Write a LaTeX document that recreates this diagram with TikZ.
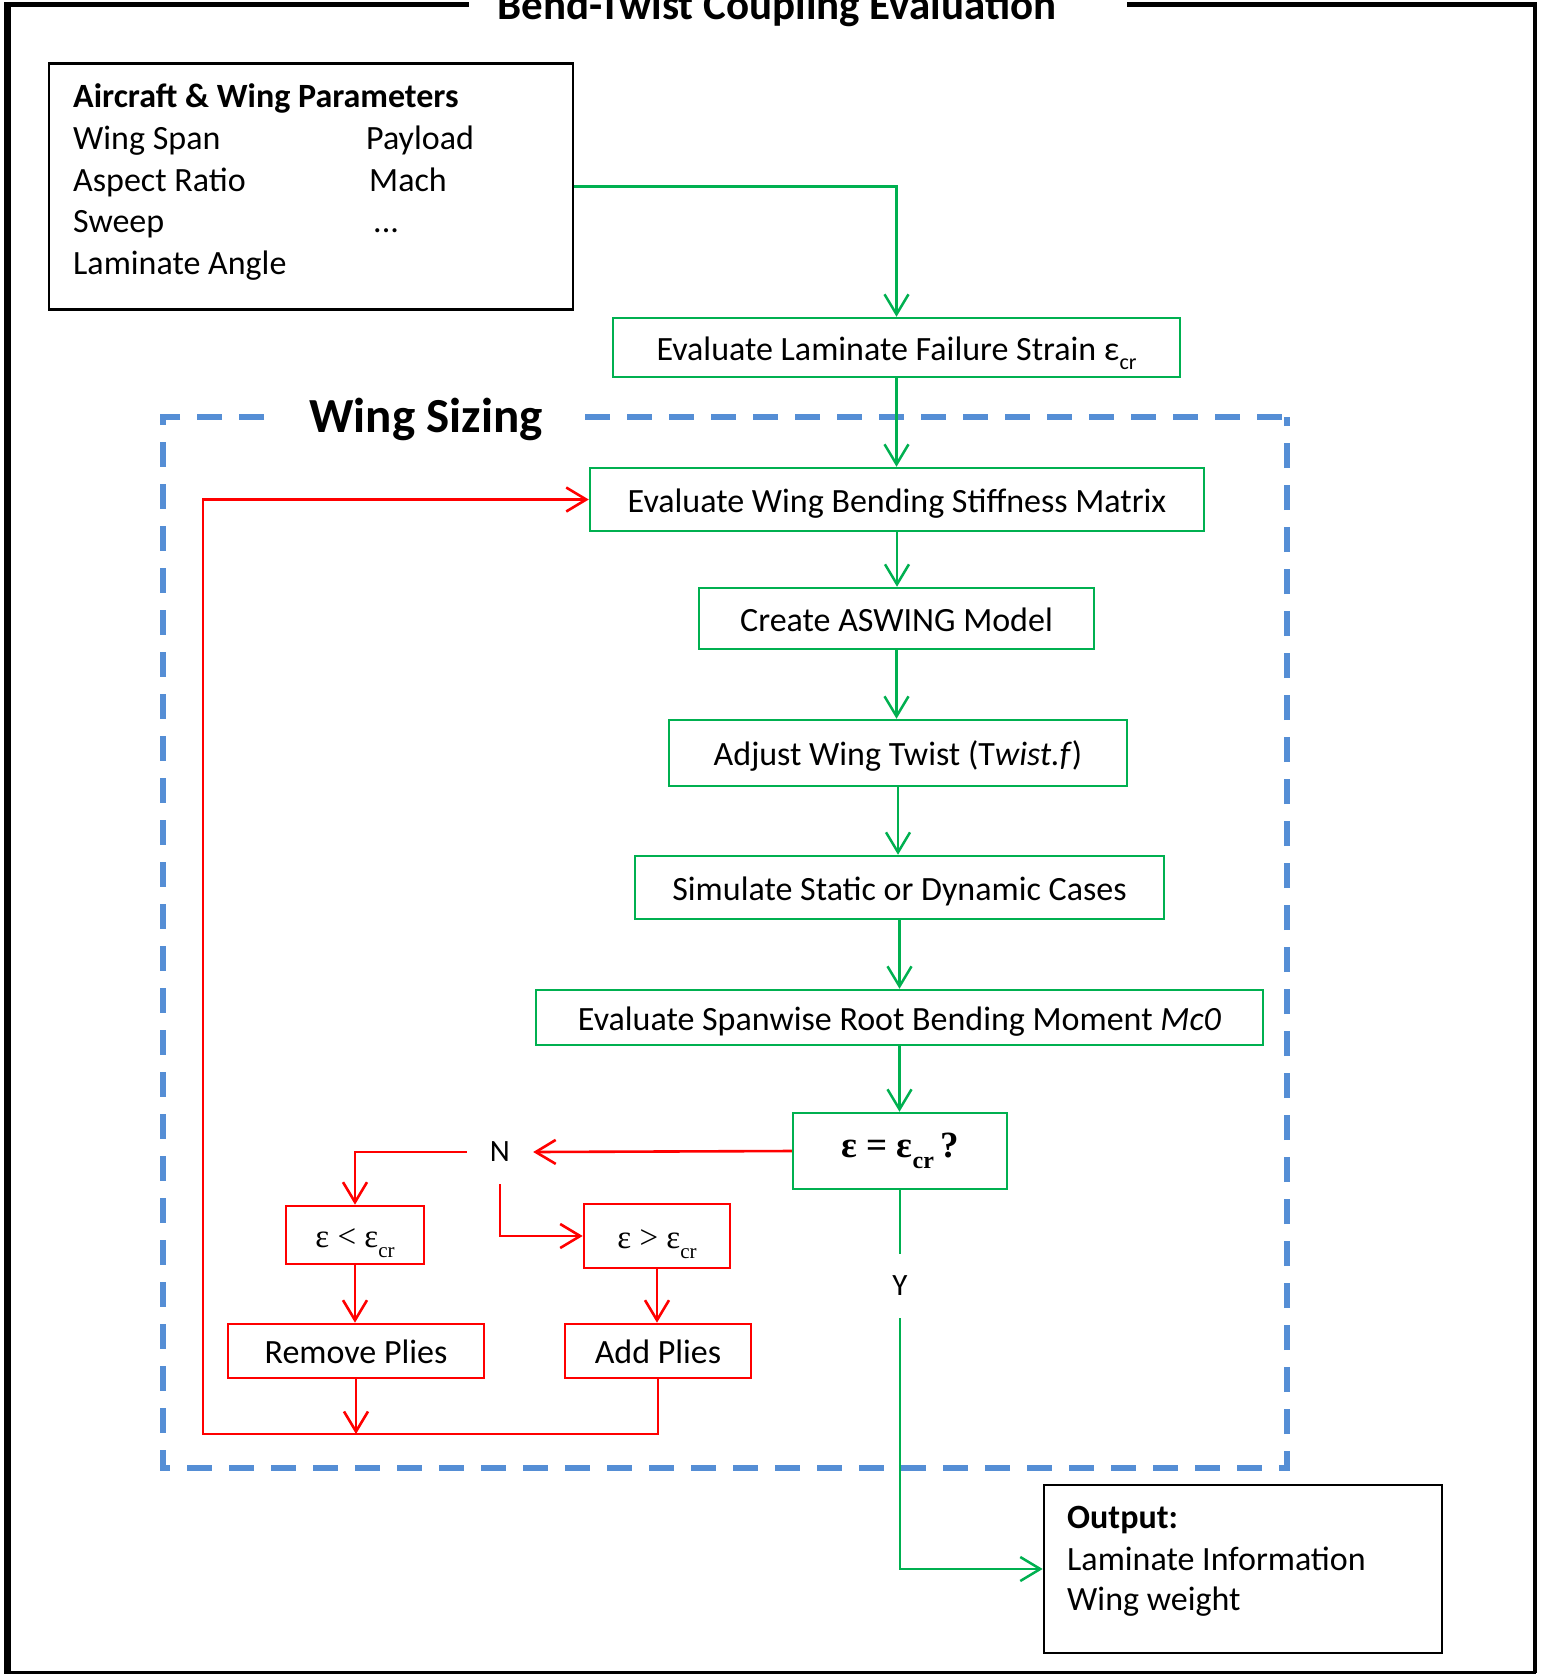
\documentclass[tikz,border=0pt]{standalone}
\usepackage{fontspec}
\setmainfont{Carlito}
\newfontfamily\tmsfont{Liberation Serif}
\usetikzlibrary{arrows.meta}
\definecolor{grn}{HTML}{00B050}
\definecolor{rd}{HTML}{FF0000}
\definecolor{blu}{HTML}{558ED5}
\newcommand\mainsz{\fontsize{34pt}{41.5pt}\selectfont}
\newcommand\subcr{\raisebox{-0.28em}{\fontsize{22pt}{22pt}\selectfont cr}}
\newcommand\tsubcr{\raisebox{-0.3em}{\fontsize{21pt}{21pt}\selectfont cr}}
\tikzset{
  gbox/.style={draw=grn, line width=2.5pt, inner sep=0pt, font=\mainsz, anchor=center, text height=29pt, text depth=4pt},
  rbox/.style={draw=rd, line width=2.6pt, inner sep=0pt, font=\mainsz, anchor=center, text height=29pt, text depth=4pt},
  sbox/.style={draw=rd, line width=2.6pt, inner sep=0pt, anchor=center, font=\tmsfont\fontsize{33pt}{38pt}\selectfont, text height=28pt, text depth=3pt},
  kbox/.style={draw=black, line width=2.6pt, inner sep=0pt, anchor=center},
  txt/.style={font=\mainsz, inner sep=0pt, anchor=base west},
  tipv/.style={-{Straight Barb[length=20pt,width=24pt]}},
  garrow/.style={draw=grn, line width=2.5pt, tipv},
  gline/.style={draw=grn, line width=2.5pt},
  rarrow/.style={draw=rd, line width=2.6pt, tipv},
  rline/.style={draw=rd, line width=2.6pt},
  wsdash/.style={blu, line width=5.5pt, dash pattern=on 25pt off 17pt, line join=miter},
}
\begin{document}
\begin{tikzpicture}[x=1pt,y=-1pt]
\useasboundingbox (0,0) rectangle (1546,1674);
% outer frame
\draw[line width=5pt] (5,4.7) -- (469,4.7);
\draw[line width=5pt] (1127,4.7) -- (1536,4.7);
\draw[line width=7pt] (7.5,2) -- (7.5,1674);
\draw[line width=4pt] (1535,2) -- (1535,1673);
\draw[line width=3pt] (6,1672) -- (1536,1672);
\node[font=\bfseries\fontsize{43pt}{50pt}\selectfont, anchor=base, inner sep=0pt] (title) at (777,19) {Bend-Twist Coupling Evaluation};

% parameters box
\node[kbox, minimum width=524pt, minimum height=246pt] (params) at (311,186.5) {};
\node[txt, font=\bfseries\mainsz] (p0) at (73,107) {Aircraft \& Wing Parameters};
\node[txt] (p1) at (73,149) {Wing Span};
\node[txt] (p2) at (73,191) {Aspect Ratio};
\node[txt] (p3) at (73,232) {Sweep};
\node[txt] (p4) at (73,274) {Laminate Angle};
\node[txt] (q1) at (366,149) {Payload};
\node[txt] (q2) at (369,191) {Mach};
\node[txt] (q3) at (373,232) {...};

% wing sizing dashed region
\draw[wsdash] (264,417) -- (163,417) -- (163,1468) -- (1287,1468) -- (1287,417);
\draw[wsdash] (585,417) -- (1287,417);
\node[font=\bfseries\fontsize{49pt}{55pt}\selectfont, anchor=base, inner sep=0pt] (ws) at (426,432) {Wing Sizing};

% main chain
\node[gbox, minimum width=567pt, minimum height=59pt] (b1) at (896.5,347.5) {Evaluate Laminate Failure Strain ε\subcr};
\node[gbox, minimum width=614pt, minimum height=63pt] (b2) at (897,499.5) {Evaluate Wing Bending Stiffness Matrix};
\node[gbox, minimum width=395pt, minimum height=61pt] (b3) at (896.5,618.5) {Create ASWING Model};
\node[gbox, minimum width=458pt, minimum height=66pt] (b4) at (898,753) {Adjust Wing Twist (T\textit{wist.f})};
\node[gbox, minimum width=529pt, minimum height=63pt] (b5) at (899.5,887.5) {Simulate Static or Dynamic Cases};
\node[gbox, minimum width=727pt, minimum height=55pt] (b6) at (899.5,1017.5) {Evaluate Spanwise Root Bending Moment \textit{Mc0}};
\node[draw=grn, line width=2.5pt, inner sep=0pt, anchor=center, minimum width=214pt, minimum height=76pt, font=\tmsfont\bfseries\fontsize{37pt}{42pt}\selectfont] (b7) at (900,1151) {ε = ε\raisebox{-0.3em}{\fontsize{24pt}{24pt}\selectfont cr}\,?};

% output box
\node[kbox, minimum width=398pt, minimum height=168pt] (out) at (1243,1569) {};
\node[txt, font=\bfseries\mainsz] (o1) at (1067,1528) {Output:};
\node[txt] (o2) at (1067,1570) {Laminate Information};
\node[txt] (o3) at (1067,1610) {Wing weight};

% labels
\node[font=\fontsize{31pt}{36pt}\selectfont, inner sep=0pt, minimum width=66pt, minimum height=64pt] (nlab) at (500,1152) {N};
\node[font=\fontsize{31pt}{36pt}\selectfont, inner sep=0pt, minimum width=40pt, minimum height=64pt] (ylab) at (900,1286) {Y};

% red branch boxes
\node[sbox, minimum width=138pt, minimum height=58pt] (lt) at (355,1235) {ε < ε\tsubcr};
\node[sbox, minimum width=146pt, minimum height=64pt] (gt) at (657,1236) {ε > ε\tsubcr};
\node[rbox, minimum width=256pt, minimum height=54pt] (rem) at (356,1351) {Remove Plies};
\node[rbox, minimum width=186pt, minimum height=54pt] (add) at (658,1351) {Add Plies};
\coordinate (loopbl) at (203,1434);

% green connectors
\draw[garrow] (params.east) -| (b1.north);
\draw[garrow] (b1.south) -- (b1.south |- b2.north);
\draw[garrow] (b2.south) -- (b2.south |- b3.north);
\draw[garrow] (b3.south) -- (b3.south |- b4.north);
\draw[garrow] (b4.south) -- (b4.south |- b5.north);
\draw[garrow] (b5.south) -- (b5.south |- b6.north);
\draw[garrow] (b6.south) -- (b6.south |- b7.north);
\draw[gline] (b7.south) -- (ylab.north);
\draw[garrow] (ylab.south) |- (out.west);

% red connectors
\draw[rarrow] (b7.west) -- (nlab.east);
\draw[rarrow] (nlab.west) -| (lt.north);
\draw[rarrow] (nlab.south) |- (gt.west);
\draw[rarrow] (lt.south) -- (lt.south |- rem.north);
\draw[rarrow] (gt.south) -- (gt.south |- add.north);
\draw[rarrow] (rem.south) -- (rem.south |- loopbl);
\draw[rarrow] (add.south) |- (loopbl) |- (b2.west);
\end{tikzpicture}
\end{document}
